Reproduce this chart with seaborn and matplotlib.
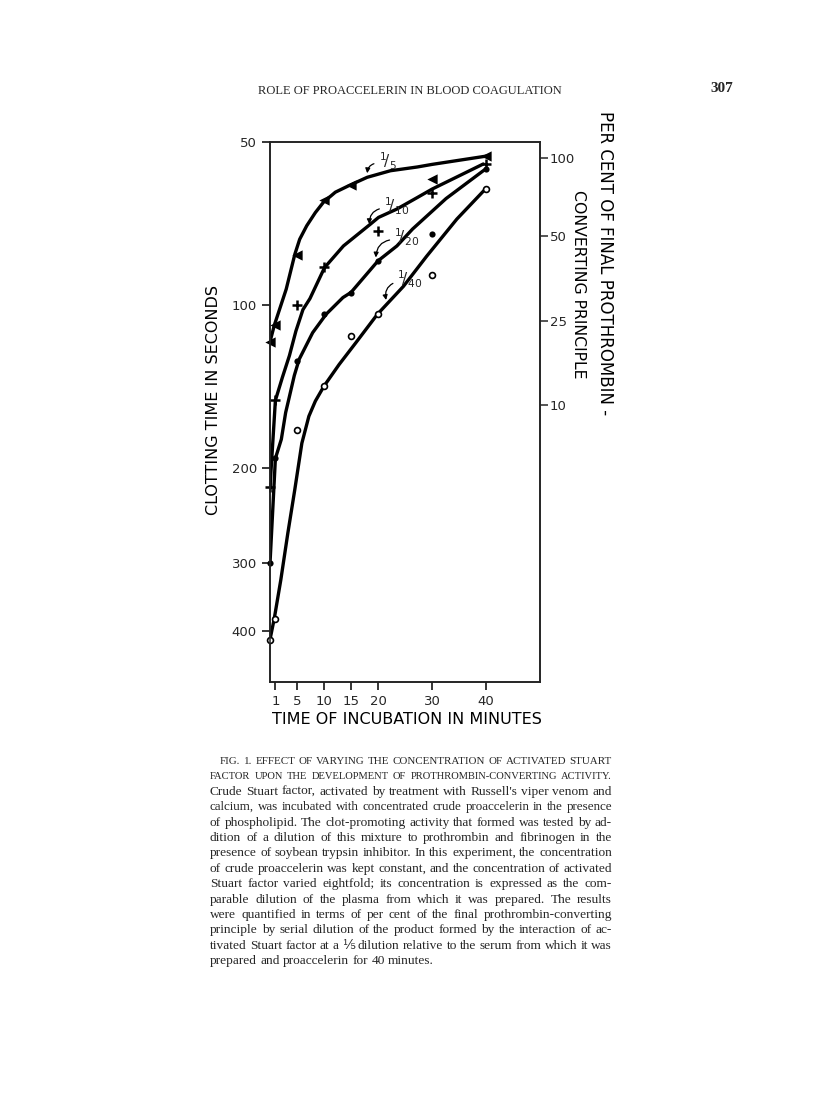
import numpy as np
import pandas as pd
import matplotlib
matplotlib.use("Agg")
import matplotlib.pyplot as plt
import seaborn as sns

# measured points: incubation time (min) vs clotting time (s)
min_5 = [0, 1, 5, 10, 15, 30, 40]
clot_5 = [117, 109, 81, 64, 60, 58.5, 53]
min_10 = [0, 1, 5, 10, 20, 30, 40]
clot_10 = [217, 150, 100, 85, 73, 62, 55]
min_20 = [0, 1, 5, 10, 15, 20, 30, 40]
clot_20 = [300, 192, 127, 104, 95, 83, 74, 56]
min_40 = [0, 1, 5, 10, 15, 20, 30, 40]
clot_40 = [415, 380, 170, 141, 114, 104, 88, 61]

# hand drawn curves
curve_x_5 = [0, 0.8, 3.0, 4.6, 5.5, 6.8, 8.4, 9.9, 12.1, 14.6, 18.0, 22.3, 27.3, 30, 40]
curve_y_5 = [117, 109, 93.5, 80.6, 75.6, 71.4, 67.5, 64.6, 61.9, 60.2, 58.1, 56.5, 55.6, 55.0, 53.1]
curve_x_10 = [0, 1, 2.3, 3.6, 4.8, 6.1, 7.4, 10.1, 13.6, 18.6, 20.1, 23.5, 27.3, 30, 39.5]
curve_y_10 = [217, 150, 136, 124, 111.7, 102, 97.3, 85.3, 77.8, 70.9, 68.9, 66.5, 63.3, 61.1, 54.9]
curve_x_20 = [0, 1, 2.1, 2.9, 3.5, 4.5, 5.4, 7.9, 10.4, 13.5, 15, 20, 23.5, 26.4, 32.6, 39.7]
curve_y_20 = [300, 192, 177, 158, 149, 135, 126, 112.5, 104, 96.9, 94.8, 82.9, 77.8, 72.4, 63.6, 56.3]
curve_x_40 = [0, 0.8, 2.0, 3.3, 4.6, 5.9, 7.2, 8.4, 10.0, 12.8, 15.9, 19.9, 24.7, 29.0, 34.6, 39.6]
curve_y_40 = [415, 379, 322, 264, 219, 180, 160.5, 150.5, 141.2, 128.8, 117.4, 104, 92.4, 81.3, 69.4, 61.5]

dilutions = ["5", "10", "20", "40"]
x_ticks = [1, 5, 10, 15, 20, 30, 40]
y_ticks = [50, 100, 200, 300, 400]
pct_ticks = ["100", "50", "25", "10"]
pct_tick_times = [53.5, 74.6, 107, 153]

caption = [
    "FIG. 1.  EFFECT OF VARYING THE CONCENTRATION OF ACTIVATED STUART",
    "FACTOR UPON THE DEVELOPMENT OF PROTHROMBIN-CONVERTING ACTIVITY.",
    "Crude Stuart factor, activated by treatment with Russell's viper venom and",
    "calcium, was incubated with concentrated crude proaccelerin in the presence",
    "of phospholipid.  The clot-promoting activity that formed was tested by ad-",
    "dition of a dilution of this mixture to prothrombin and fibrinogen in the",
    "presence of soybean trypsin inhibitor.  In this experiment, the concentration",
    "of crude proaccelerin was kept constant, and the concentration of activated",
    "Stuart factor varied eightfold; its concentration is expressed as the com-",
    "parable dilution of the plasma from which it was prepared.  The results",
    "were quantified in terms of per cent of the final prothrombin-converting",
    "principle by serial dilution of the product formed by the interaction of ac-",
    "tivated Stuart factor at a \u2155 dilution relative to the serum from which it was",
    "prepared and proaccelerin for 40 minutes.",
]

curves = pd.concat([
    pd.DataFrame({"t": curve_x_5, "clot": curve_y_5, "dil": "5"}),
    pd.DataFrame({"t": curve_x_10, "clot": curve_y_10, "dil": "10"}),
    pd.DataFrame({"t": curve_x_20, "clot": curve_y_20, "dil": "20"}),
    pd.DataFrame({"t": curve_x_40, "clot": curve_y_40, "dil": "40"}),
])

sns.set_style("ticks")
plt.rcParams["font.family"] = ["DejaVu Sans"]

W, H = 816, 1100
fig = plt.figure(figsize=(W / 100, H / 100), dpi=100)
ax = fig.add_axes([270 / W, 1 - 682 / H, 270 / W, 540 / H])

sns.lineplot(data=curves, x="t", y="clot", hue="dil", units="dil", estimator=None,
             sort=False, palette=["black"] * 4, linewidth=2.4, legend=False, ax=ax,
             solid_joinstyle="round", solid_capstyle="round")

sns.scatterplot(x=min_5, y=clot_5, marker="<", s=55, color="black", linewidth=0,
                ax=ax, clip_on=False, zorder=5)
sns.scatterplot(x=min_10, y=clot_10, marker="+", s=55, color="black", linewidth=1.8,
                ax=ax, clip_on=False, zorder=5)
sns.scatterplot(x=min_20, y=clot_20, marker="o", s=20, color="black", linewidth=0,
                ax=ax, clip_on=False, zorder=5)
sns.scatterplot(x=min_40, y=clot_40, marker="o", s=18, facecolor="white",
                edgecolor="black", linewidth=1.2, ax=ax, clip_on=False, zorder=5)

ax.set_yscale("log")
ax.set_xlim(0, 50)
ax.set_ylim(497, 50)
ax.set_xticks(x_ticks)
ax.set_xticklabels([str(v) for v in x_ticks])
ax.set_yticks(y_ticks)
ax.set_yticklabels([str(v) for v in y_ticks])
ax.minorticks_off()
ax.set_xlabel("")
ax.set_ylabel("")
ax.tick_params(direction="out", length=6, width=1.1, labelsize=9.5, color="black")
for sp in ax.spines.values():
    sp.set_visible(True)
    sp.set_linewidth(1.1)
    sp.set_color("black")

ax2 = ax.twinx()
ax2.set_yscale("log")
ax2.set_ylim(497, 50)
ax2.set_yticks(pct_tick_times)
ax2.set_yticklabels(pct_ticks)
ax2.minorticks_off()
ax2.tick_params(direction="out", length=6, width=1.1, labelsize=9.5, pad=1)
for sp in ax2.spines.values():
    sp.set_linewidth(1.1)

# curve labels with hooked arrows
label_pos = [(20.1, 54.2), (21.1, 65.6), (23.0, 75.0), (23.6, 89.7)]
arrow_to = [(18.0, 57.1), (18.4, 70.9), (19.6, 81.7), (21.5, 97.9)]
for d, txt, head in zip(dilutions, label_pos, arrow_to):
    ax.annotate(r"$^{1}\!/_{%s}$" % d, xy=head, xytext=txt, fontsize=11,
                ha="left", va="center",
                arrowprops=dict(arrowstyle="-|>", connectionstyle="arc3,rad=0.45",
                                color="black", lw=0.9, mutation_scale=7,
                                shrinkA=1, shrinkB=0, relpos=(0, 0.4)))

lab = dict(color="black", ha="center", va="center")
fig.text(407 / W, 1 - 719 / H, "TIME OF INCUBATION IN MINUTES", fontsize=11.5, **lab)
fig.text(213 / W, 1 - 400 / H, "CLOTTING TIME IN SECONDS", rotation=90, fontsize=11.5, **lab)
fig.text(605 / W, 1 - 263 / H, "PER CENT OF FINAL PROTHROMBIN -", rotation=270,
         fontsize=12, **lab)
fig.text(578 / W, 1 - 284 / H, "CONVERTING PRINCIPLE", rotation=270, fontsize=11.3, **lab)

serif = ["Liberation Serif", "DejaVu Serif"]
fig.text(258 / W, 1 - 91 / H, "ROLE OF PROACCELERIN IN BLOOD COAGULATION",
         fontsize=9, family=serif, ha="left", va="center")
fig.text(733 / W, 1 - 89 / H, "307", fontsize=11, family=serif, weight="bold",
         ha="right", va="center")

# justified caption
renderer = fig.canvas.get_renderer()
cap_left, cap_right = 210, 612
for i, line in enumerate(caption):
    y = 761 + i * 15.4
    size = 8.2 if i < 2 else 9.6
    words = line.split()
    x0 = cap_left + (10 if i == 0 else 0)
    while True:
        objs = [fig.text(0, 1 - y / H, w, fontsize=size, family=serif, va="center",
                         ha="left") for w in words]
        widths = [o.get_window_extent(renderer).width for o in objs]
        if sum(widths) + 3.0 * (len(words) - 1) <= cap_right - x0:
            break
        for o in objs:
            o.remove()
        size -= 0.1
    if i == len(caption) - 1:
        gap = 3.4
    else:
        gap = (cap_right - x0 - sum(widths)) / (len(words) - 1)
    x = x0
    for o, w in zip(objs, widths):
        o.set_x(x / W)
        x += w + gap

fig.savefig("out.png", dpi=100, facecolor="white")
